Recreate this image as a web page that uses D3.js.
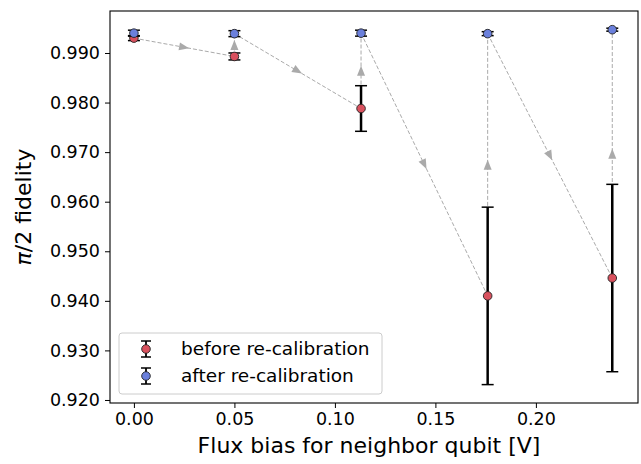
<!DOCTYPE html>
<html><head><meta charset="utf-8">
<script src="https://cdn.jsdelivr.net/npm/d3@7"></script>
<style>body{margin:0;background:#fff}svg{display:block;font-family:"DejaVu Sans",sans-serif}</style>
</head><body><svg id="c" width="641" height="464"></svg>
<script>
const fluxBias = [0.0, 0.05, 0.113, 0.176, 0.238];
const beforeVals = [0.9930, 0.9893, 0.9788, 0.9410, 0.9446];
const beforeErr = [0.0005, 0.0007, 0.0046, 0.0179, 0.0189];
const afterVals = [0.9940, 0.9939, 0.9940, 0.9939, 0.9947];
const afterErr = [0.0006, 0.0006, 0.0006, 0.0004, 0.0003];
const xTicks = [0.00, 0.05, 0.10, 0.15, 0.20];
const yTicks = [0.920, 0.930, 0.940, 0.950, 0.960, 0.970, 0.980, 0.990];
const seriesNames = ["before re-calibration", "after re-calibration"];
const colors = ["#d9515e", "#6b80dc"];

const L = 110, R = 638, T = 11, B = 403;
const svg = d3.select("#c");
const x = d3.scaleLinear().domain([-0.0119, 0.2508]).range([L, R]);
const y = d3.scaleLinear().domain([0.91939, 0.99847]).range([B, T]);

// path of re-calibration steps
const pts = [];
pts.push([fluxBias[0], beforeVals[0]]);
for (let i = 1; i < fluxBias.length; i++) {
  pts.push([fluxBias[i], beforeVals[i]]);
  pts.push([fluxBias[i], afterVals[i]]);
}
const g = svg.append("g");
for (let i = 0; i < pts.length - 1; i++) {
  const x1 = x(pts[i][0]), y1 = y(pts[i][1]), x2 = x(pts[i+1][0]), y2 = y(pts[i+1][1]);
  g.append("line").attr("x1", x1).attr("y1", y1).attr("x2", x2).attr("y2", y2)
    .attr("stroke", "#aaaaaa").attr("stroke-width", 1).attr("stroke-dasharray", "4,2");
  const mx = (x1 + x2) / 2, my = (y1 + y2) / 2;
  const ang = Math.atan2(y2 - y1, x2 - x1) * 180 / Math.PI;
  g.append("path").attr("d", "M5,0 L-5,-4 L-5,4 Z")
    .attr("transform", `translate(${mx},${my}) rotate(${ang})`)
    .attr("fill", "#aaaaaa");
}

function drawSeries(vals, errs, color, lw) {
  const s = svg.append("g");
  fluxBias.forEach((fx, i) => {
    const cx = x(fx);
    const yt = y(vals[i] + errs[i]), yb = y(vals[i] - errs[i]);
    s.append("line").attr("x1", cx).attr("x2", cx).attr("y1", yt).attr("y2", yb).attr("stroke", "#000").attr("stroke-width", lw);
    [yt, yb].forEach(yy => s.append("line").attr("x1", cx - 6).attr("x2", cx + 6).attr("y1", yy).attr("y2", yy).attr("stroke", "#000").attr("stroke-width", 1.5));
    s.append("circle").attr("cx", cx).attr("cy", y(vals[i])).attr("r", 4.3).attr("fill", color).attr("stroke", "#222").attr("stroke-width", 0.9);
  });
}
drawSeries(beforeVals, beforeErr, colors[0], 2.5);
drawSeries(afterVals, afterErr, colors[1], 2);

// frame
svg.append("rect").attr("x", L).attr("y", T).attr("width", R - L).attr("height", B - T).attr("fill", "none").attr("stroke", "#000").attr("stroke-width", 1.1);

// axes
const xAxis = svg.append("g").attr("transform", `translate(0,${B})`)
  .call(d3.axisBottom(x).tickValues(xTicks).tickFormat(d3.format(".2f")).tickSize(5).tickPadding(5));
const yAxis = svg.append("g").attr("transform", `translate(${L},0)`)
  .call(d3.axisLeft(y).tickValues(yTicks).tickFormat(d3.format(".3f")).tickSize(5).tickPadding(5));
[xAxis, yAxis].forEach(a => {
  a.select(".domain").remove();
  a.selectAll("text").attr("font-size", 17.5).attr("fill", "#000").attr("font-family", "DejaVu Sans");
  a.selectAll("line").attr("stroke", "#000").attr("stroke-width", 1);
});
xAxis.selectAll("text").attr("dy", "0.71em");

svg.append("text").attr("x", (L + R) / 2 - 5).attr("y", 453).attr("text-anchor", "middle")
  .attr("font-size", 22).text("Flux bias for neighbor qubit [V]");
const yl = svg.append("text").attr("transform", `translate(31,${(T + B) / 2}) rotate(-90)`).attr("text-anchor", "middle").attr("font-size", 22);
yl.append("tspan").attr("font-style", "italic").text("π");
yl.append("tspan").text("/2 fidelity");

// legend
const lg = svg.append("g").attr("transform", "translate(119,333)");
lg.append("rect").attr("width", 263).attr("height", 61).attr("rx", 3).attr("fill", "#fff").attr("fill-opacity", 0.8).attr("stroke", "#ccc").attr("stroke-width", 1);
seriesNames.forEach((nm, i) => {
  const cy = 16 + i * 27;
  const cx = 27;
  lg.append("line").attr("x1", cx).attr("x2", cx).attr("y1", cy - 8).attr("y2", cy + 8).attr("stroke", "#000").attr("stroke-width", 1.8);
  [cy - 8, cy + 8].forEach(yy => lg.append("line").attr("x1", cx - 5).attr("x2", cx + 5).attr("y1", yy).attr("y2", yy).attr("stroke", "#000").attr("stroke-width", 1.5));
  lg.append("circle").attr("cx", cx).attr("cy", cy).attr("r", 4.3).attr("fill", colors[i]).attr("stroke", "#222").attr("stroke-width", 0.9);
  lg.append("text").attr("x", 62).attr("y", cy).attr("dy", "0.35em").attr("font-size", 18.5).text(nm);
});
</script></body></html>
